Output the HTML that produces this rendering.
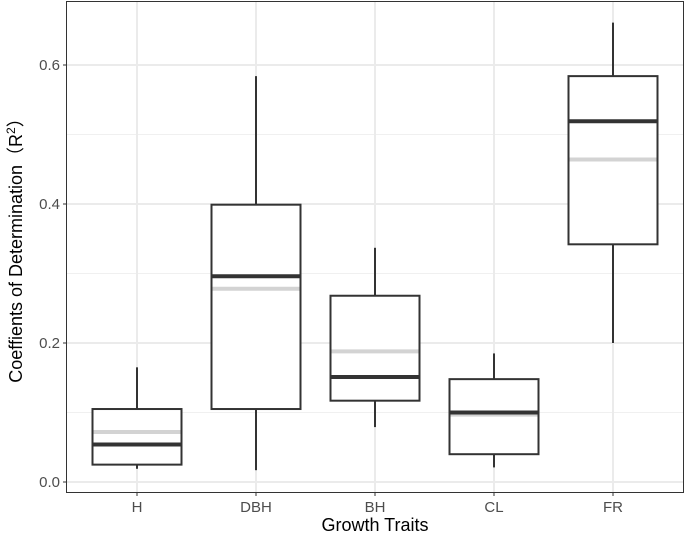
<!DOCTYPE html>
<html><head><meta charset="utf-8"><style>
html,body{margin:0;padding:0;background:#fff;}
svg{display:block;font-family:"Liberation Sans",Arial,sans-serif;}
</style></head><body>
<svg id="chart" width="685" height="540" xmlns="http://www.w3.org/2000/svg">
<rect x="0" y="0" width="685" height="540" fill="#fff"/>
<g id="grid"></g>
<g id="boxes"></g>
<rect x="66.5" y="1.5" width="617" height="491" fill="none" stroke="#333" stroke-width="1"/>
<g id="axes"></g>
<text x="22" y="246" transform="rotate(-90 22 246)" text-anchor="middle" font-size="18" fill="#000">Coeffients of Determination（R<tspan dy="-7" font-size="12">2</tspan><tspan dy="7">）</tspan></text>
<text x="375" y="531" text-anchor="middle" font-size="18" fill="#000">Growth Traits</text>
</svg>
<script>
const categories = ["H","DBH","BH","CL","FR"];
const whiskerLow = [0.019,0.017,0.079,0.021,0.200];
const q1 = [0.025,0.105,0.117,0.040,0.342];
const medians = [0.054,0.296,0.151,0.100,0.519];
const means = [0.072,0.278,0.188,0.097,0.464];
const q3 = [0.105,0.399,0.268,0.148,0.584];
const whiskerHigh = [0.165,0.584,0.337,0.185,0.661];
const yTicks = [0,0.2,0.4,0.6];
const yTickLabels = ["0.0","0.2","0.4","0.6"];

const NS="http://www.w3.org/2000/svg";
const L=67,R=684,T=1,B=492;
const y=v=>482-695*v;
const x=i=>137+119*i;
const half=44.5;
function mk(tag,attrs,parent){const e=document.createElementNS(NS,tag);for(const k in attrs)e.setAttribute(k,attrs[k]);parent.appendChild(e);return e;}
const grid=document.getElementById('grid'),boxes=document.getElementById('boxes'),axes=document.getElementById('axes');
for(let i=0;i<yTicks.length-1;i++){
  const v=(yTicks[i]+yTicks[i+1])/2;
  const g=mk('line',{x1:L,x2:R,y1:y(v),y2:y(v),stroke:'#f0f0f0','stroke-width':1},grid);
  
  
}
yTicks.forEach((v,i)=>{
  const g=mk('line',{x1:L,x2:R,y1:y(v),y2:y(v),stroke:'#ebebeb','stroke-width':2},grid);
  
  
  const t=mk('line',{x1:L-4,x2:L,y1:y(v),y2:y(v),stroke:'#333','stroke-width':1},axes);
  
  
  const lab=mk('text',{x:L-7,y:y(v)+5,'text-anchor':'end','font-size':15,fill:'#4d4d4d'},axes);
  lab.textContent=yTickLabels[i];
  
  
});
categories.forEach((c,i)=>{
  const cx=x(i);
  const g=mk('line',{x1:cx,x2:cx,y1:T,y2:B,stroke:'#ebebeb','stroke-width':2},grid);
  
  
  const t=mk('line',{x1:cx,x2:cx,y1:B,y2:B+4,stroke:'#333','stroke-width':1},axes);
  
  
  const lab=mk('text',{x:cx,y:B+20,'text-anchor':'middle','font-size':15,fill:'#4d4d4d'},axes);
  lab.textContent=c;
  
  
  const grp=mk('g',{},boxes);
  
  
  const w1=mk('line',{x1:cx,x2:cx,y1:y(q3[i]),y2:y(whiskerHigh[i]),stroke:'#333','stroke-width':2},grp);
  
  
  const w2=mk('line',{x1:cx,x2:cx,y1:y(q1[i]),y2:y(whiskerLow[i]),stroke:'#333','stroke-width':2},grp);
  
  
  const r=mk('rect',{x:cx-half,y:y(q3[i]),width:2*half,height:y(q1[i])-y(q3[i]),fill:'#fff',stroke:'#333','stroke-width':2},grp);
  
  
  const mn=mk('line',{x1:cx-half+1,x2:cx+half-1,y1:y(means[i]),y2:y(means[i]),stroke:'#d3d3d3','stroke-width':4},grp);
  
  
  const md=mk('line',{x1:cx-half,x2:cx+half,y1:y(medians[i]),y2:y(medians[i]),stroke:'#333','stroke-width':4},grp);
  
  
});
</script>
</body></html>
